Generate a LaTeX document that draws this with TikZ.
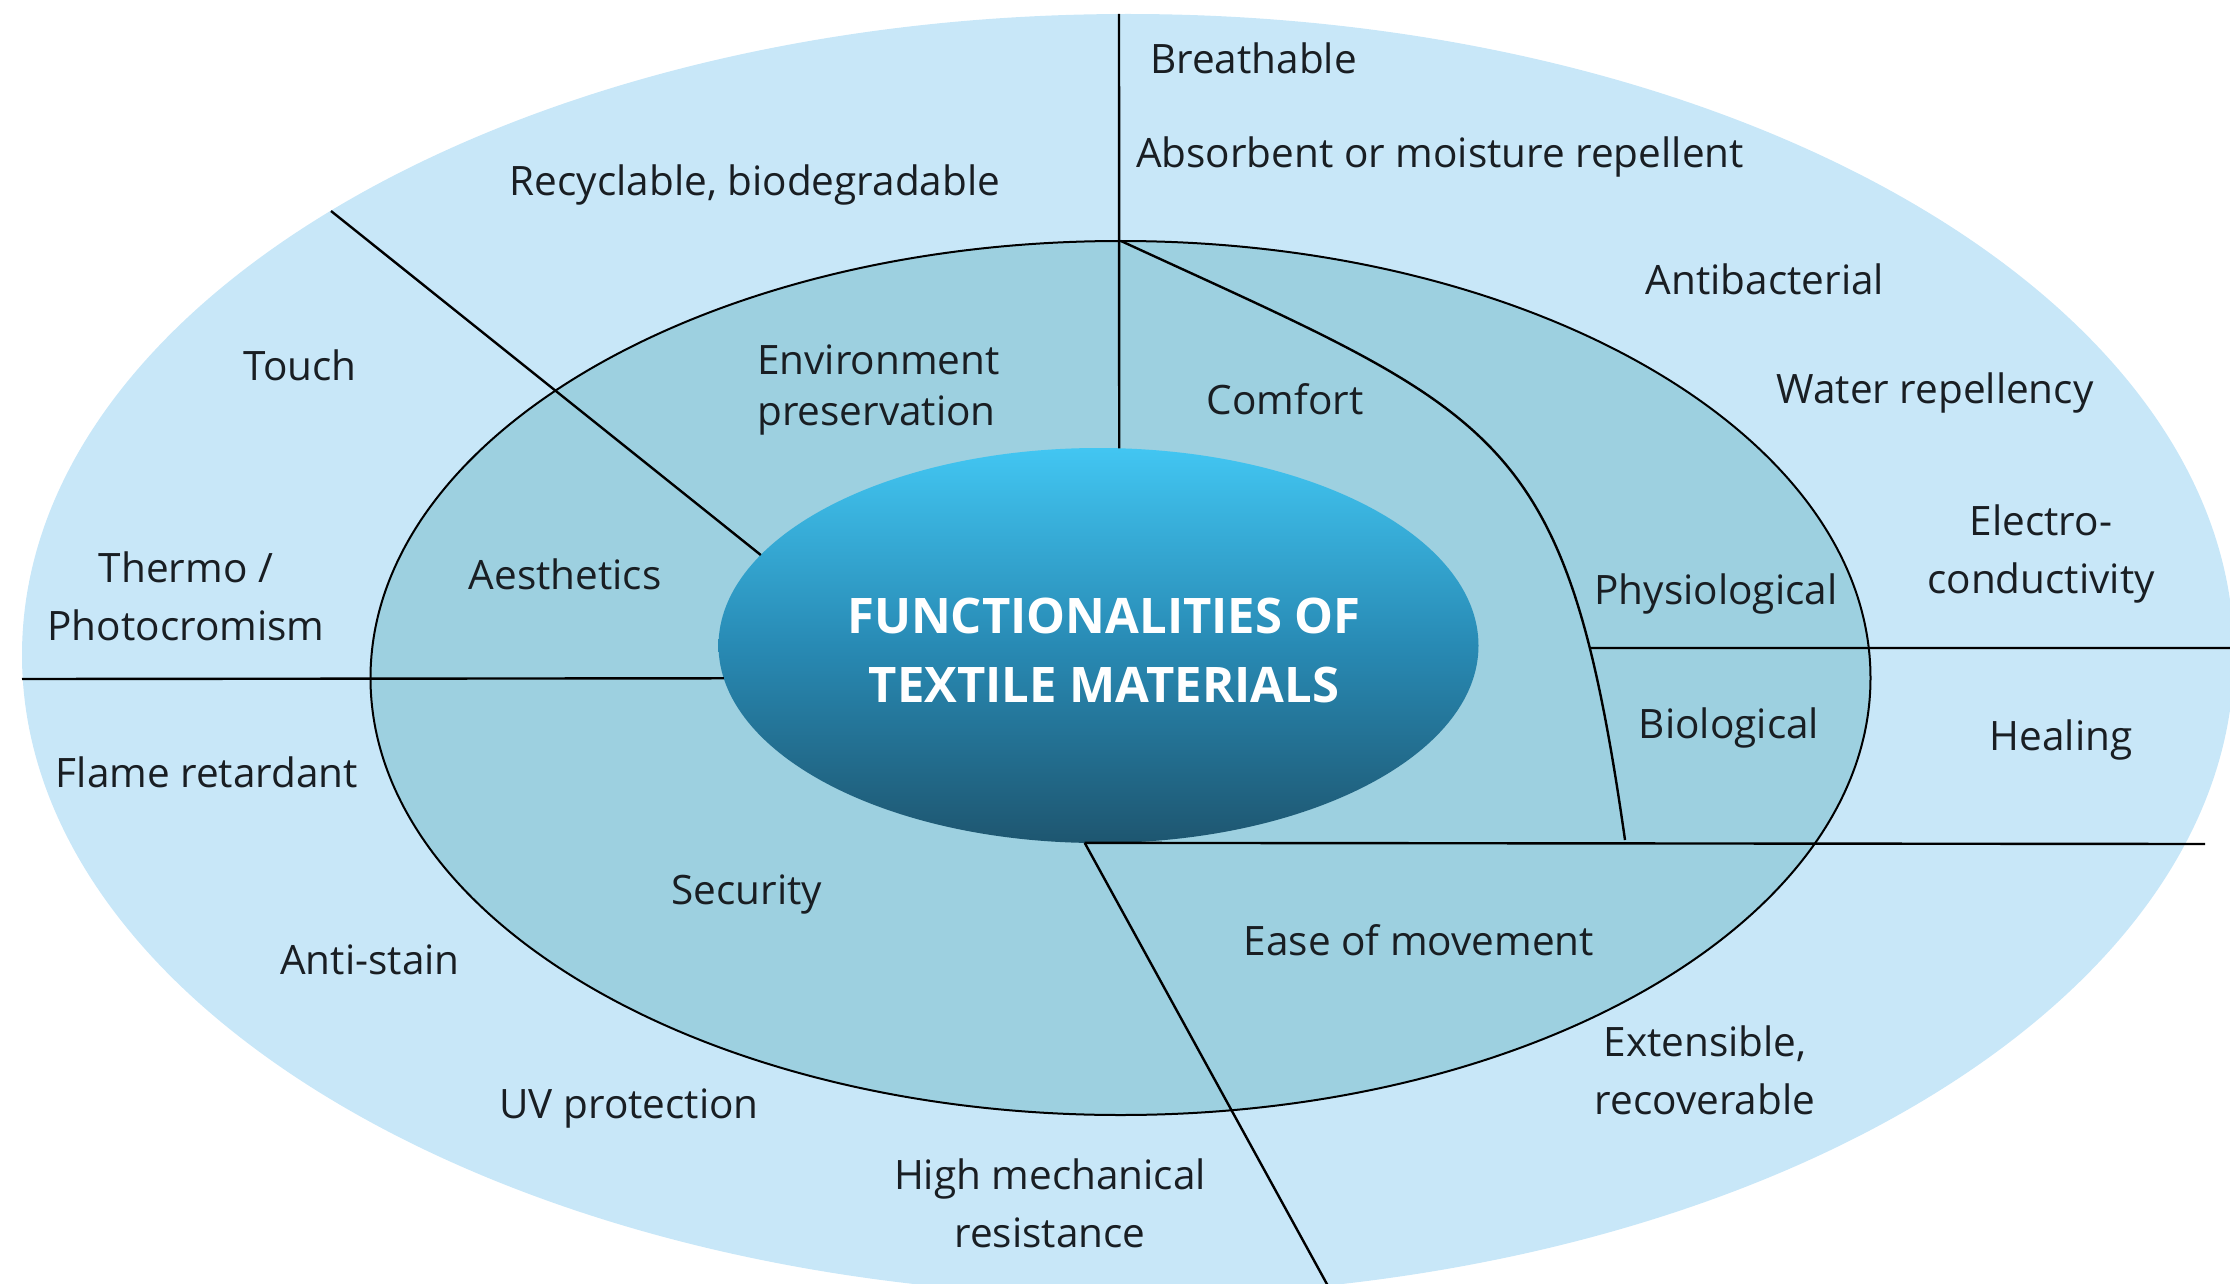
\documentclass[tikz,border=0pt]{standalone}
\usepackage{fontspec}
\setmainfont{Open Sans}
\usetikzlibrary{shapes.geometric,intersections}
\definecolor{outerblue}{RGB}{200,231,248}
\definecolor{midblue}{RGB}{157,208,224}
\definecolor{coretop}{RGB}{66,198,242}
\definecolor{coremid}{RGB}{40,138,180}
\definecolor{corebot}{RGB}{30,86,112}
\definecolor{ink}{RGB}{25,30,35}
\newcommand{\mytwoc}[2]{\begin{tabular}[b]{@{}c@{}}#1\\#2\end{tabular}}
\newcommand{\mytwol}[2]{\begin{tabular}[b]{@{}l@{}}#1\\#2\end{tabular}}
\begin{document}
\begin{tikzpicture}[x=1pt,y=-1pt,
  divider/.style={draw=black,line width=2.4pt},
  lbl/.style={font=\fontsize{40.5}{58}\selectfont, text=ink, inner sep=0pt, anchor=base},
  lblw/.style={lbl, anchor=base west},
  envlbl/.style={font=\fontsize{40.5}{51}\selectfont, text=ink, inner sep=0pt, anchor=base west},
  titlelbl/.style={font=\bfseries\fontsize{49}{69}\selectfont, text=white, inner sep=0pt, anchor=base},
  corestyle/.style={ellipse, minimum width=760pt, minimum height=395pt, inner sep=0pt, outer sep=0pt,
     top color=coretop, bottom color=corebot, middle color=coremid}]
\useasboundingbox (0,0) rectangle (2230,1284);
\clip (0,0) rectangle (2230,1284);
% rings
\fill[outerblue] (1128,655) ellipse [x radius=1106, y radius=641];
\filldraw[fill=midblue, draw=black, line width=2pt] (1120.5,678) ellipse [x radius=750, y radius=437];
\node[corestyle] (core) at (1098.5,645.5) {};
% end points of the dividers
\coordinate (topend) at (1119,14);
\coordinate (nwend) at (331,211);
\coordinate (wend) at (22,679);
\coordinate (midtop) at (1121,241);
\coordinate (curveend) at (1625,840);
\coordinate (hstart) at (1450,648);
\coordinate (eend) at (2232,648);
\coordinate (seend) at (2205,844);
\coordinate (send) at (1328,1286);
% dividers
\draw[divider] (topend) -- (core.84);
\draw[divider] (nwend) -- (core.165);
\draw[divider] (wend) -- (core.185);
\draw[divider, name path=curve] (midtop) .. controls (1503,417) and (1566,426) .. (curveend);
\path[name path=hline] (hstart) -- (eend);
\path[name intersections={of=curve and hline, by=phys}];
\draw[divider] (phys) -- (eend);
\draw[divider] (core.266) -- (seend);
\draw[divider] (core.266) -- (send);
% title
\node[titlelbl] (title) at (1104,702) {\mytwoc{FUNCTIONALITIES OF}{TEXTILE MATERIALS}};
% middle ring labels
\node[envlbl] (env) at (757,425) {\mytwol{Environment}{preservation}};
\node[lbl] (comfort) at (1285,414) {Comfort};
\node[lbl] (physio) at (1716,604) {Physiological};
\node[lbl] (bio) at (1729,738) {Biological};
\node[lbl] (aes) at (565,589) {Aesthetics};
\node[lbl] (sec) at (747,904) {Security};
\node[lbl] (ease) at (1419,955) {Ease of movement};
% outer ring labels
\node[lblw] (breath) at (1150,74) {Breathable};
\node[lblw] (absorb) at (1136,168) {Absorbent or moisture repellent};
\node[lbl] (recyc) at (755,196) {Recyclable, biodegradable};
\node[lbl] (antib) at (1765,294) {Antibacterial};
\node[lbl] (water) at (1935,403) {Water repellency};
\node[lbl] (electro) at (2041,593) {\mytwoc{Electro-}{conductivity}};
\node[lbl] (heal) at (2061,750) {Healing};
\node[lbl] (ext) at (1705,1114) {\mytwoc{Extensible,}{recoverable}};
\node[lbl] (mech) at (1050,1247) {\mytwoc{High mechanical}{resistance}};
\node[lbl] (uv) at (629,1118) {UV protection};
\node[lbl] (stain) at (370,974) {Anti-stain};
\node[lbl] (flame) at (207,787) {Flame retardant};
\node[lbl] (thermo) at (186,640) {\mytwoc{Thermo /}{Photocromism}};
\node[lbl] (touch) at (300,380) {Touch};
\end{tikzpicture}
\end{document}
